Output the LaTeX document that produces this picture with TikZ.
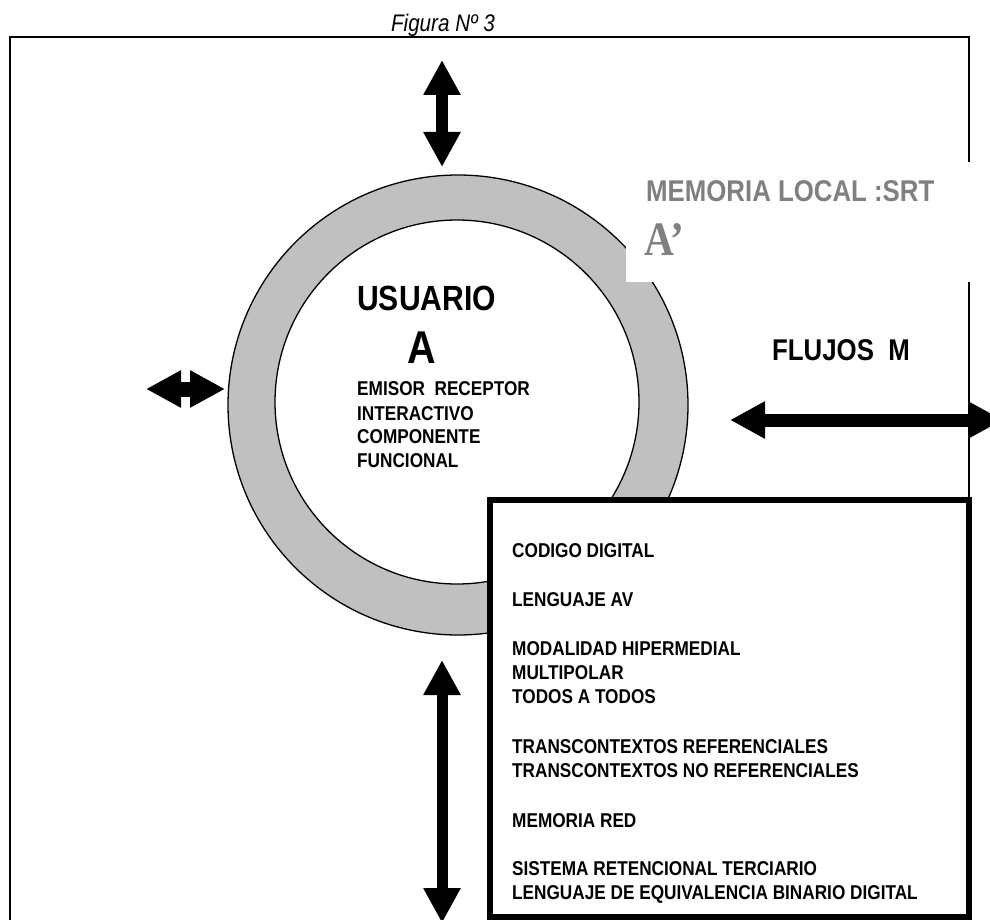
\documentclass[tikz,border=0pt]{standalone}
\usepackage{fontspec}
\setmainfont{Liberation Sans}[FakeStretch=0.86]
\newfontfamily\serifbig{Liberation Serif}[FakeStretch=0.86]
\usetikzlibrary{arrows.meta}
\definecolor{ringgray}{RGB}{192,192,192}
\definecolor{localgray}{RGB}{128,128,128}
\tikzset{
  txt/.style={anchor=base west, inner sep=0pt},
  boxtxt/.style={txt, font=\fontsize{20}{24}\selectfont\bfseries},
  fatarrow/.style={line width=#1, {Triangle[length=35pt,width=35pt]}-{Triangle[length=35pt,width=35pt]}},
}
\begin{document}
\begin{tikzpicture}[x=1pt,y=1pt,yscale=-1,xscale=1]
		\useasboundingbox (0,0) rectangle (990,920);
		
		%Frame
		\draw [line width=2]    (10,920) -- (10,37) -- (969,37) -- (969,920) ;
		
		%Ring
		\draw [fill=ringgray, line width=1.3, even odd rule]    (458,405) circle [radius=230] (457,402) circle [radius=182] ;
		
		%Local memory patch
		\fill [white]    (626,162) rectangle (995,282) ;
		
		%Arrows
		\draw [fatarrow=12]    (442,60) -- (442,167) ;
		\draw [fatarrow=15]    (146,389) -- (225,389) ;
		\draw [fatarrow=13]    (730,420) -- (1003,420) ;
		\draw [fatarrow=11]    (442,660) -- (442,923) ;
		
		%Box
		\draw [fill=white, line width=6]    (490,500) rectangle (969,917) ;
		
		% Text Node
		\node (fig) [anchor=base, inner sep=0pt, font=\fontsize{24}{28}\selectfont\itshape] at (443,32) {Figura Nº 3};
		% Text Node
		\node (usuario) [txt, font=\fontsize{35}{40}\selectfont\bfseries] at (357,310) {USUARIO};
		% Text Node
		\node (a) [txt, font=\fontsize{46}{50}\selectfont\bfseries] at (407,363) {A};
		% Text Node
		\node (emisor) [boxtxt] at (357,395) {EMISOR\ \ RECEPTOR};
		\node (interact) [boxtxt] at (357,420) {INTERACTIVO};
		\node (compon) [boxtxt] at (357,443) {COMPONENTE};
		\node (funcional) [boxtxt] at (357,467) {FUNCIONAL};
		% Text Node
		\node (memlocal) [txt, text=localgray, font=\fontsize{30}{34}\selectfont\bfseries] at (646,201) {MEMORIA LOCAL :SRT};
		% Text Node
		\node (aprime) [txt, text=localgray, font=\fontsize{48}{52}\selectfont\serifbig\bfseries] at (644,255) {A’};
		% Text Node
		\node (flujos) [txt, font=\fontsize{30}{34}\selectfont\bfseries] at (772,360) {FLUJOS\ \ M};
		
		% Text Node
		\node (codigo) [boxtxt] at (512,557) {CODIGO DIGITAL};
		\node (lenguaje) [boxtxt] at (512,606) {LENGUAJE AV};
		\node (modal) [boxtxt] at (512,655) {MODALIDAD HIPERMEDIAL};
		\node (multi) [boxtxt] at (512,679) {MULTIPOLAR};
		\node (todos) [boxtxt] at (512,703) {TODOS A TODOS};
		\node (transref) [boxtxt] at (512,753) {TRANSCONTEXTOS REFERENCIALES};
		\node (transnoref) [boxtxt] at (512,777) {TRANSCONTEXTOS NO REFERENCIALES};
		\node (memred) [boxtxt] at (512,827) {MEMORIA RED};
		\node (sistema) [boxtxt] at (512,875) {SISTEMA RETENCIONAL TERCIARIO};
		\node (equiv) [boxtxt] at (512,899) {LENGUAJE DE EQUIVALENCIA BINARIO DIGITAL};
		
\end{tikzpicture}
\end{document}
